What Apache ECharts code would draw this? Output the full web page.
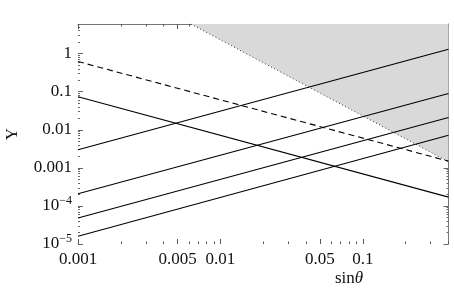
<!DOCTYPE html>
<html><head><meta charset="utf-8">
<script src="https://cdn.jsdelivr.net/npm/echarts@6/dist/echarts.min.js"></script>
<style>html,body{margin:0;padding:0;background:#fff}#c{width:454px;height:300px}</style>
</head><body><div id="c"></div>
<script>
// ---- data ----
const xRange = [0.001, 0.4];
const yRange = [1e-5, 6];
const xEnds = [0.001, 0.4];
const risingA = [0.003, 1.3];
const risingB = [2.1e-4, 0.09];
const risingC = [4.8e-5, 0.021];
const risingD = [1.6e-5, 0.0072];
const fallingSolid = [0.074, 1.7e-4];
const fallingDashed = [0.62, 0.0015];
const boundaryX = [0.0062, 0.4];
const boundaryY = [6, 0.00145];
const xTickLabels = [0.001, 0.005, 0.01, 0.05, 0.1];
const xLabelText = ['0.001', '0.005', '0.01', '0.05', '0.1'];
const yTickLabels = [1e-5, 1e-4, 0.001, 0.01, 0.1, 1];
const yLabelText = ['{b|10}{s|\u22125}', '{b|10}{s|\u22124}', '0.001', '0.01', '0.1', '1'];
const xTitle = ['sin', '\u03b8'];
const yTitle = 'Y';

// minor tick positions (2..9 per decade)
function minors(lo, hi, skip) {
  const out = [];
  for (let d = Math.floor(Math.log10(lo)); d <= Math.ceil(Math.log10(hi)); d++) {
    for (let m = 2; m <= 9; m++) {
      const v = m * Math.pow(10, d);
      if (v >= lo && v <= hi && !(skip && skip.includes(m))) out.push(+v.toPrecision(6));
    }
  }
  return out;
}
const xMinor = minors(xRange[0], xRange[1], [5]);
const yMinor = minors(yRange[0], yRange[1], []);

const FONT = 'Liberation Serif';
const INK = '#111';
const FRAME = '#777';

function pair(ys) { return xEnds.map((x, i) => [x, ys[i]]); }

function xAxisDef(pos, major, showLabel, showLine) {
  return {
    type: 'log', logBase: 10, min: xRange[0], max: xRange[1], position: pos,
    axisLine: { show: showLine, lineStyle: { color: FRAME, width: 1 } },
    axisTick: { show: true, inside: true, length: major ? 5 : 2.5,
      customValues: major ? xTickLabels : xMinor,
      lineStyle: { color: '#555', width: 1 } },
    axisLabel: showLabel ? {
      show: true, customValues: xTickLabels, margin: 7,
      fontFamily: FONT, fontSize: 17, color: INK,
      formatter: (v) => { const i = xTickLabels.findIndex(t => Math.abs(Math.log10(t) - Math.log10(v)) < 1e-6); return i >= 0 ? xLabelText[i] : ''; }
    } : { show: false },
    splitLine: { show: false }, minorTick: { show: false }
  };
}
function yAxisDef(pos, major, showLabel, showLine) {
  return {
    type: 'log', logBase: 10, min: yRange[0], max: yRange[1], position: pos,
    axisLine: { show: showLine, lineStyle: { color: FRAME, width: 1 } },
    axisTick: { show: true, inside: true, length: major ? 5 : 2,
      customValues: major ? yTickLabels : yMinor,
      lineStyle: { color: '#666', width: 1 } },
    axisLabel: showLabel ? {
      show: true, customValues: yTickLabels, margin: 6,
      fontFamily: FONT, fontSize: 17, color: INK,
      formatter: (v) => { const i = yTickLabels.findIndex(t => Math.abs(Math.log10(t) - Math.log10(v)) < 1e-6); return i >= 0 ? yLabelText[i] : ''; },
      rich: {
        b: { fontFamily: FONT, fontSize: 17, color: INK },
        s: { fontFamily: FONT, fontSize: 12, color: INK, padding: [0, 0, 10, 0] }
      }
    } : { show: false },
    name: showLabel ? yTitle : '', nameLocation: 'middle', nameGap: 57, nameRotate: 90,
    nameTextStyle: { fontFamily: FONT, fontSize: 17, color: INK },
    splitLine: { show: false }, minorTick: { show: false }
  };
}

const lineStyleSolid = { color: '#000', width: 1.1 };
function seg(name, ys, extra) {
  return Object.assign({
    name, type: 'line', data: pair(ys), symbol: 'none', xAxisIndex: 0, yAxisIndex: 0,
    lineStyle: lineStyleSolid, silent: true, animation: false, z: 3
  }, extra || {});
}

const chart = echarts.init(document.getElementById('c'), null, { renderer: 'canvas' });
chart.setOption({
  animation: false,
  grid: { left: 78, right: 5.5, top: 24, bottom: 56, containLabel: false, outerBoundsMode: 'none' },
  xAxis: [
    xAxisDef('bottom', true, true, false),
    xAxisDef('bottom', false, false, false),
    xAxisDef('top', true, false, true),
    xAxisDef('top', false, false, false)
  ],
  yAxis: [
    yAxisDef('left', true, true, false),
    yAxisDef('left', false, false, false),
    yAxisDef('right', true, false, true),
    yAxisDef('right', false, false, false)
  ],
  graphic: [{
    type: 'text', left: 335, top: 270,
    style: {
      text: '{n|' + xTitle[0] + '}{t|' + xTitle[1] + '}',
      rich: {
        n: { fontFamily: FONT, fontSize: 17, fill: INK, color: INK },
        t: { fontFamily: FONT, fontSize: 17, fontStyle: 'italic', fill: INK, color: INK }
      }
    }
  }],
  series: [
    {
      name: 'excluded', type: 'line', symbol: 'none', silent: true, z: 1,
      data: boundaryX.map((x, i) => [x, boundaryY[i]]),
      lineStyle: { color: '#333', width: 1, type: [1, 2.5] },
      areaStyle: { color: '#d9d9d9', opacity: 1, origin: 'end' }
    },
    seg('A', risingA),
    seg('B', risingB),
    seg('C', risingC),
    seg('D', risingD),
    seg('falling', fallingSolid),
    seg('dashed', fallingDashed, { lineStyle: { color: '#000', width: 1.1, type: [6, 4] } })
  ]
});
</script>
</body></html>
